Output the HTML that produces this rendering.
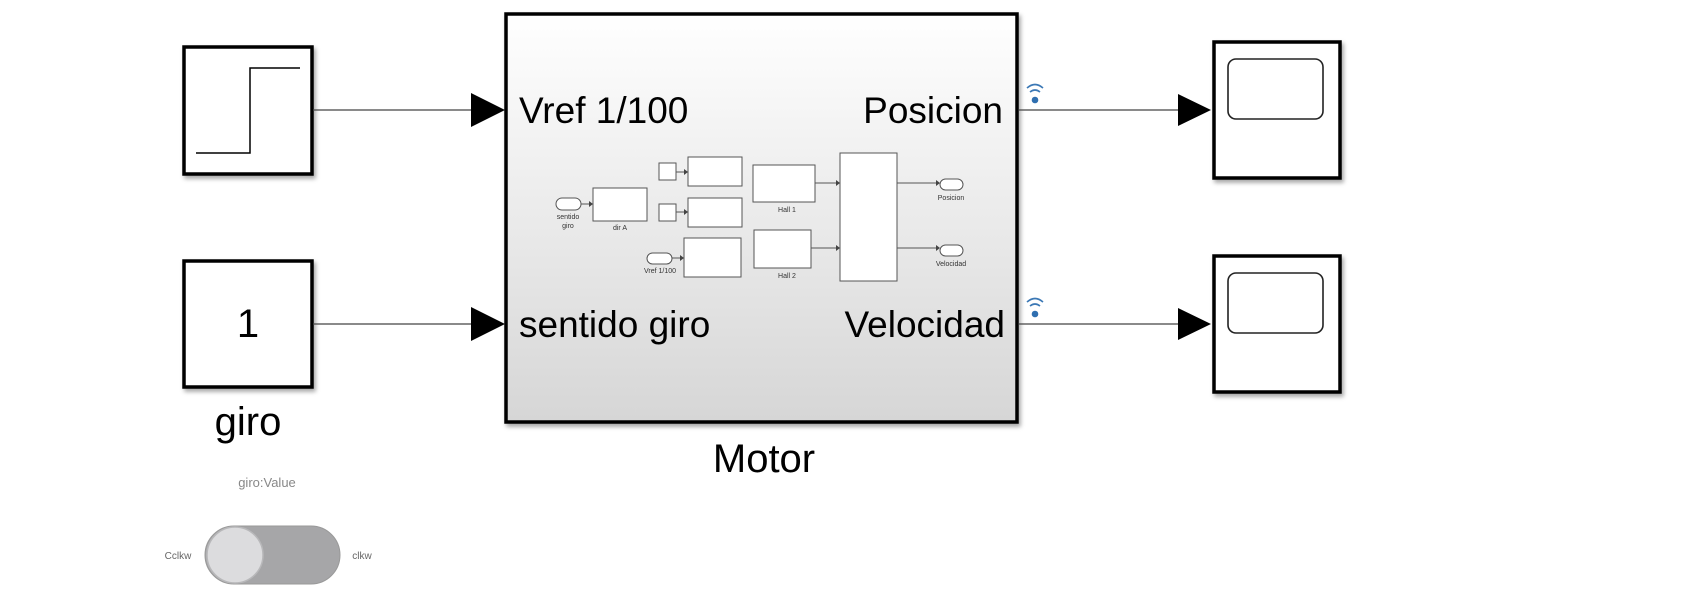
<!DOCTYPE html>
<html><head><meta charset="utf-8"><style>
html,body{margin:0;padding:0;background:#fff;}
svg{display:block;font-family:"Liberation Sans",Arial,sans-serif;}
</style></head><body>
<svg width="1702" height="606" viewBox="0 0 1702 606" xmlns="http://www.w3.org/2000/svg">
<defs>
<linearGradient id="g" x1="0" y1="0" x2="0" y2="1">
<stop offset="0" stop-color="#ffffff"/><stop offset="1" stop-color="#d6d6d6"/>
</linearGradient>
<filter id="sh" x="-5%" y="-5%" width="115%" height="115%"><feDropShadow dx="2" dy="3" stdDeviation="2" flood-opacity="0.35"/></filter>
</defs>
<rect x="184" y="47" width="128" height="127" fill="#fff" stroke="#000" stroke-width="3.5" filter="url(#sh)"/>
<polyline points="196,153 250,153 250,68 300,68" fill="none" stroke="#000" stroke-width="1.5"/>
<rect x="184" y="261" width="128" height="126" fill="#fff" stroke="#000" stroke-width="3.5" filter="url(#sh)"/>
<text x="248" y="337" font-size="40" text-anchor="middle">1</text>
<text x="248" y="435" font-size="40" text-anchor="middle">giro</text>
<line x1="313" y1="110" x2="472" y2="110" stroke="#444" stroke-width="1.3"/>
<polygon points="471,93 505,110 471,127" fill="#000"/>
<line x1="313" y1="324" x2="472" y2="324" stroke="#444" stroke-width="1.3"/>
<polygon points="471,307 505,324 471,341" fill="#000"/>
<rect x="506" y="14" width="511" height="408" fill="url(#g)" stroke="#000" stroke-width="3.5" filter="url(#sh)"/>
<text x="519" y="123" font-size="37">Vref 1/100</text>
<text x="1003" y="123" font-size="37" text-anchor="end">Posicion</text>
<text x="519" y="337" font-size="37">sentido giro</text>
<text x="1005" y="337" font-size="37" text-anchor="end">Velocidad</text>
<text x="764" y="472" font-size="40" text-anchor="middle">Motor</text>
<g stroke="#555" stroke-width="1" fill="#fff">
<rect x="556" y="198" width="25" height="12" rx="6"/>
<rect x="593" y="188" width="54" height="33"/>
<rect x="659" y="163" width="17" height="17"/>
<rect x="659" y="204" width="17" height="17"/>
<rect x="688" y="157" width="54" height="29"/>
<rect x="688" y="198" width="54" height="29"/>
<rect x="684" y="238" width="57" height="39"/>
<rect x="647" y="253" width="25" height="11" rx="5.5"/>
<rect x="753" y="165" width="62" height="37"/>
<rect x="754" y="230" width="57" height="38"/>
<rect x="840" y="153" width="57" height="128"/>
<rect x="940" y="179" width="23" height="11" rx="5.5"/>
<rect x="940" y="245" width="23" height="11" rx="5.5"/>
<line x1="581" y1="204" x2="590" y2="204"/>
<line x1="676" y1="172" x2="685" y2="172"/>
<line x1="676" y1="212" x2="685" y2="212"/>
<line x1="672" y1="258" x2="681" y2="258"/>
<line x1="815" y1="183" x2="836" y2="183"/>
<line x1="811" y1="248" x2="836" y2="248"/>
<line x1="897" y1="183" x2="937" y2="183"/>
<line x1="897" y1="248" x2="937" y2="248"/>
</g>
<g fill="#444">
<polygon points="589,201 593,204 589,207"/>
<polygon points="684,169 688,172 684,175"/>
<polygon points="684,209 688,212 684,215"/>
<polygon points="680,255 684,258 680,261"/>
<polygon points="836,180 840,183 836,186"/>
<polygon points="836,245 840,248 836,251"/>
<polygon points="936,180 940,183 936,186"/>
<polygon points="936,245 940,248 936,251"/>
</g>
<g font-size="7" fill="#333" text-anchor="middle">
<text x="568" y="219">sentido</text><text x="568" y="228">giro</text>
<text x="620" y="230">dir A</text>
<text x="660" y="273">Vref 1/100</text>
<text x="787" y="212">Hall 1</text>
<text x="787" y="278">Hall 2</text>
<text x="951" y="200">Posicion</text>
<text x="951" y="266">Velocidad</text>
</g>
<g fill="none" stroke="#3b78b5" stroke-width="1.6">
<path d="M1027,88 q8,-7 16,0"/><path d="M1030,92 q5,-4 10,0"/>
<path d="M1027,302 q8,-7 16,0"/><path d="M1030,306 q5,-4 10,0"/>
</g>
<circle cx="1035" cy="100" r="3.3" fill="#2f6fb0"/>
<circle cx="1035" cy="314" r="3.3" fill="#2f6fb0"/>
<line x1="1019" y1="110" x2="1180" y2="110" stroke="#444" stroke-width="1.3"/>
<polygon points="1178,94 1211,110 1178,126" fill="#000"/>
<line x1="1019" y1="324" x2="1180" y2="324" stroke="#444" stroke-width="1.3"/>
<polygon points="1178,308 1211,324 1178,340" fill="#000"/>
<rect x="1214" y="42" width="126" height="136" fill="#fff" stroke="#000" stroke-width="3.5" filter="url(#sh)"/>
<rect x="1228" y="59" width="95" height="60" rx="8" fill="none" stroke="#222" stroke-width="1.6"/>
<rect x="1214" y="256" width="126" height="136" fill="#fff" stroke="#000" stroke-width="3.5" filter="url(#sh)"/>
<rect x="1228" y="273" width="95" height="60" rx="8" fill="none" stroke="#222" stroke-width="1.6"/>
<text x="267" y="487" font-size="13" fill="#888" text-anchor="middle">giro:Value</text>
<rect x="205" y="526" width="135" height="58" rx="29" fill="#a6a6a8" stroke="#999" stroke-width="1"/>
<circle cx="235" cy="555" r="28" fill="#dcdcde" stroke="#b8b8ba" stroke-width="1.5"/>
<text x="178" y="559" font-size="10" fill="#666" text-anchor="middle">Cclkw</text>
<text x="362" y="559" font-size="10" fill="#666" text-anchor="middle">clkw</text>
</svg>
</body></html>
